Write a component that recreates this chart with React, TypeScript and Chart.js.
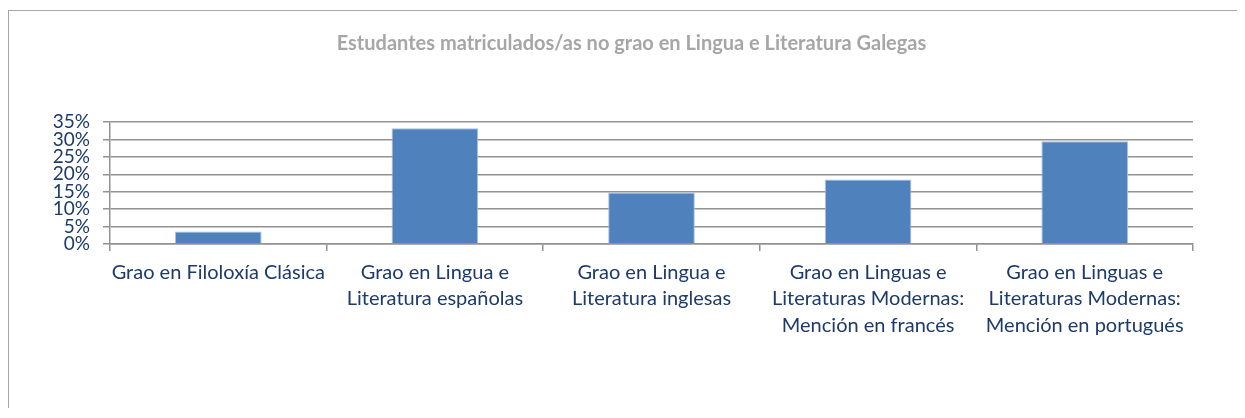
import React, { useEffect, useRef } from "react";
import { Chart, registerables } from "chart.js";

Chart.register(...registerables);

const chartTitle = "Estudantes matriculados/as no grao en Lingua e Literatura Galegas";

const categories: (string | string[])[] = [
  "Grao en Filoloxía Clásica",
  ["Grao en Lingua e", "Literatura españolas"],
  ["Grao en Lingua e", "Literatura inglesas"],
  ["Grao en Linguas e", "Literaturas Modernas:", "Mención en francés"],
  ["Grao en Linguas e", "Literaturas Modernas:", "Mención en portugués"],
];

const shares = [0.036, 0.332, 0.148, 0.185, 0.295];

const yMin = 0;
const yMax = 0.35;
const yStep = 0.05;

const FONT = "Lato, 'Open Sans', sans-serif";
const TEXT_NAVY = "#1c3a6a";
const GRID_GRAY = "#929292";

export default function App() {
  const ref = useRef<HTMLCanvasElement | null>(null);

  useEffect(() => {
    if (!ref.current) return;
    const chart = new Chart(ref.current, {
      type: "bar",
      data: {
        labels: categories,
        datasets: [
          {
            data: shares,
            backgroundColor: "#4f81bd",
            borderColor: "#a9c2e0",
            borderWidth: 1,
            borderSkipped: "start",
            categoryPercentage: 0.4,
            barPercentage: 1,
          },
        ],
      },
      options: {
        responsive: false,
        animation: false,
        devicePixelRatio: 1,
        layout: { padding: { left: 9, right: 0, top: 0, bottom: 0 } },
        plugins: {
          legend: { display: false },
          tooltip: { enabled: false },
          title: {
            display: true,
            text: chartTitle,
            color: "#a6a6a6",
            font: { family: FONT, size: 20, weight: "bold", lineHeight: 1.2 },
            padding: { top: 21, bottom: 66 },
          },
        },
        scales: {
          x: {
            afterFit: (scale: any) => {
              scale.height = 166;
            },
            grid: {
              display: true,
              drawOnChartArea: false,
              drawTicks: true,
              tickLength: 7,
              offset: true,
              color: GRID_GRAY,
              lineWidth: 1.5,
            },
            border: { display: true, color: GRID_GRAY, width: 1.5 },
            ticks: {
              color: TEXT_NAVY,
              font: { family: FONT, size: 20, lineHeight: "26.5px" },
              padding: 8,
              maxRotation: 0,
              minRotation: 0,
              autoSkip: false,
            },
          },
          y: {
            min: yMin,
            max: yMax,
            afterFit: (scale: any) => {
              scale.width = 92;
            },
            grid: {
              color: GRID_GRAY,
              lineWidth: 1.5,
              drawTicks: true,
              tickLength: 7,
            },
            border: { display: true, color: GRID_GRAY, width: 1.5 },
            ticks: {
              stepSize: yStep,
              autoSkip: false,
              color: TEXT_NAVY,
              padding: 13,
              font: { family: FONT, size: 19, lineHeight: 1 },
              callback: (v: any) => `${Math.round(Number(v) * 100)}%`,
            },
          },
          spacer: {
            type: "linear",
            position: "right",
            display: true,
            afterFit: (scale: any) => {
              scale.width = 52;
            },
            grid: { display: false, drawOnChartArea: false, drawTicks: false },
            border: { display: false },
            ticks: { display: false },
          },
        },
      },
    });
    return () => chart.destroy();
  }, []);

  return (
    <div
      style={{
        position: "relative",
        top: 2,
        width: 1237,
        height: 400,
        boxSizing: "border-box",
        borderLeft: "1px solid #a6a6a6",
        borderTop: "1px solid #a6a6a6",
        overflow: "hidden",
      }}
    >
      <canvas ref={ref} width={1236} height={399} style={{ display: "block", width: 1236, height: 399 }} />
    </div>
  );
}
